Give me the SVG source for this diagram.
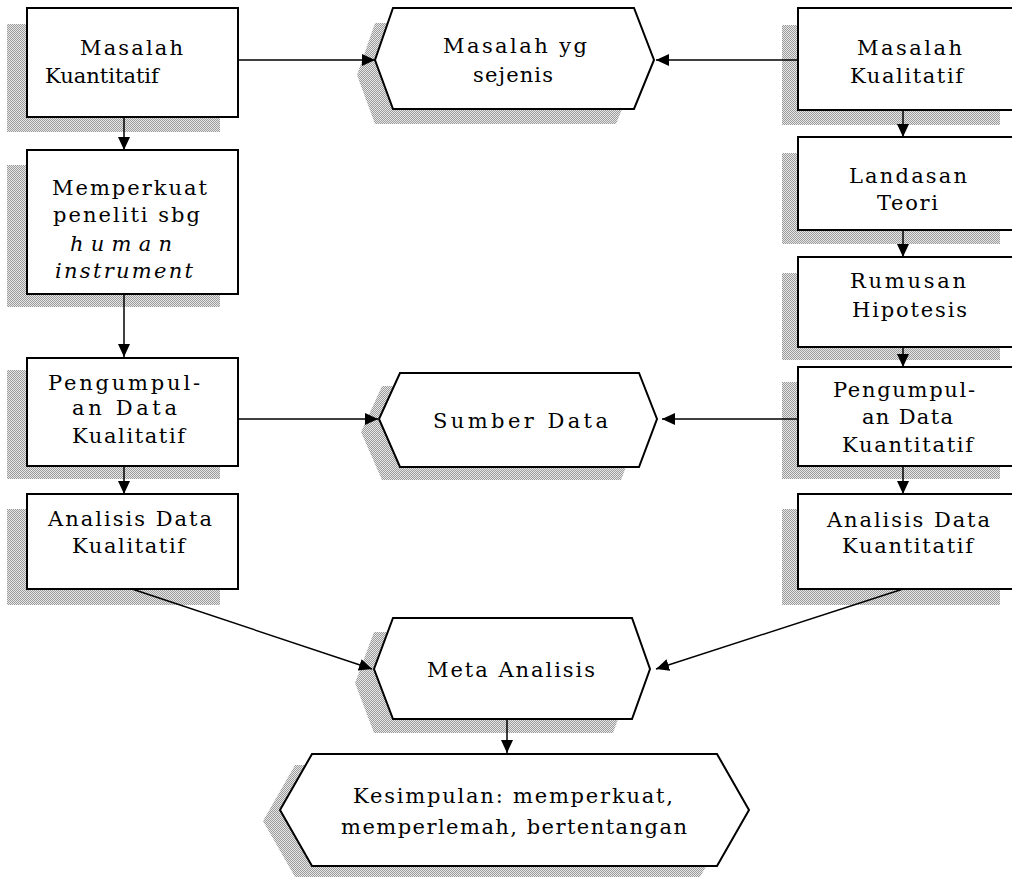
<svg xmlns="http://www.w3.org/2000/svg" width="1012" height="879" viewBox="0 0 1012 879">
<style>
.bg{fill:#fff}
.box{fill:#fff;stroke:#000;stroke-width:2}
.sh{fill:url(#dots);stroke:none}
.t{font-family:"DejaVu Serif","Liberation Serif","Times New Roman",serif;font-size:21px;fill:#000}
.it{font-style:italic}
.c{stroke:#000;stroke-width:1.5;fill:none;marker-end:url(#ah)}
</style>
<defs>
<pattern id="dots" width="2" height="2" patternUnits="userSpaceOnUse">
<rect width="2" height="2" fill="#e6e6e6"/>
<rect x="0" y="0" width="1" height="1" fill="#9c9c9c"/>
<rect x="1" y="1" width="1" height="1" fill="#9c9c9c"/>
</pattern>
<marker id="ah" markerUnits="userSpaceOnUse" markerWidth="14" markerHeight="14" refX="13" refY="6" orient="auto">
<path d="M0,0 L13,6 L0,12 z" fill="#000"/>
</marker>
<polygon id="hx1" points="393,8 634,8 654,60 634,109 393,109 375,60"/>
<polygon id="hx2" points="400,373 639,373 657,419 639,467 400,467 379,419"/>
<polygon id="hx3" points="393,618 632,618 650,669 632,719 393,719 374,669"/>
<polygon id="hx4" points="312,754 717,754 749,810 717,866 312,866 280,810"/>
</defs>
<rect class="bg" x="0" y="0" width="1012" height="879"/>

<g id="shadows">
<rect class="sh" x="7" y="24" width="213" height="108"/>
<rect class="sh" x="7" y="165" width="213" height="142"/>
<rect class="sh" x="7" y="370" width="213" height="109"/>
<rect class="sh" x="7" y="509" width="213" height="96"/>
<rect class="sh" x="782" y="25" width="218" height="100"/>
<rect class="sh" x="782" y="153" width="218" height="91"/>
<rect class="sh" x="782" y="273" width="218" height="87"/>
<rect class="sh" x="782" y="382" width="218" height="97"/>
<rect class="sh" x="782" y="509" width="218" height="96"/>
<use href="#hx1" class="sh" transform="translate(-18,15)"/>
<use href="#hx2" class="sh" transform="translate(-18,13)"/>
<use href="#hx3" class="sh" transform="translate(-19,14)"/>
<use href="#hx4" class="sh" transform="translate(-17,11)"/>
</g>

<g id="connectors">
<line class="c" x1="238" y1="60" x2="375" y2="60"/>
<line class="c" x1="798" y1="60" x2="656" y2="60"/>
<line class="c" x1="124" y1="117" x2="124" y2="150"/>
<line class="c" x1="124" y1="294" x2="124" y2="357"/>
<line class="c" x1="124" y1="466" x2="124" y2="494"/>
<line class="c" x1="903" y1="110" x2="903" y2="137"/>
<line class="c" x1="903" y1="230" x2="903" y2="257"/>
<line class="c" x1="903" y1="347" x2="903" y2="367"/>
<line class="c" x1="903" y1="466" x2="903" y2="494"/>
<line class="c" x1="238" y1="419" x2="378" y2="419"/>
<line class="c" x1="798" y1="419" x2="662" y2="419"/>
<line class="c" x1="132" y1="589" x2="372" y2="669"/>
<line class="c" x1="903" y1="589" x2="656" y2="669"/>
<line class="c" x1="507" y1="719" x2="507" y2="753"/>
</g>

<g id="n-masalah-kuantitatif">
<rect class="box" x="27" y="8" width="211" height="109"/>
<text class="t" x="80" y="55" textLength="103" lengthAdjust="spacing">Masalah</text>
<text class="t" x="45" y="83">Kuantitatif</text>
</g>
<g id="n-memperkuat">
<rect class="box" x="27" y="150" width="211" height="144"/>
<text class="t" x="52" y="195" textLength="155" lengthAdjust="spacing">Memperkuat</text>
<text class="t" x="53" y="222" textLength="147" lengthAdjust="spacing">peneliti sbg</text>
<text class="t it" x="70" y="251" textLength="102" lengthAdjust="spacing">human</text>
<text class="t it" x="55" y="278" textLength="138" lengthAdjust="spacing">instrument</text>
</g>
<g id="n-pengumpulan-kualitatif">
<rect class="box" x="27" y="358" width="211" height="108"/>
<text class="t" x="48" y="390" textLength="152" lengthAdjust="spacing">Pengumpul-</text>
<text class="t" x="72" y="415" textLength="105" lengthAdjust="spacing">an Data</text>
<text class="t" x="72" y="443" textLength="113" lengthAdjust="spacing">Kualitatif</text>
</g>
<g id="n-analisis-kualitatif">
<rect class="box" x="27" y="494" width="211" height="95"/>
<text class="t" x="48" y="526" textLength="164" lengthAdjust="spacing">Analisis Data</text>
<text class="t" x="72" y="553" textLength="113" lengthAdjust="spacing">Kualitatif</text>
</g>

<g id="n-masalah-kualitatif">
<rect class="box" x="798" y="8" width="220" height="102"/>
<text class="t" x="857" y="55" textLength="105" lengthAdjust="spacing">Masalah</text>
<text class="t" x="850" y="83" textLength="113" lengthAdjust="spacing">Kualitatif</text>
</g>
<g id="n-landasan-teori">
<rect class="box" x="798" y="137" width="220" height="93"/>
<text class="t" x="849" y="183" textLength="118" lengthAdjust="spacing">Landasan</text>
<text class="t" x="877" y="210" textLength="61" lengthAdjust="spacing">Teori</text>
</g>
<g id="n-rumusan-hipotesis">
<rect class="box" x="798" y="257" width="220" height="90"/>
<text class="t" x="850" y="288" textLength="116" lengthAdjust="spacing">Rumusan</text>
<text class="t" x="852" y="317" textLength="115" lengthAdjust="spacing">Hipotesis</text>
</g>
<g id="n-pengumpulan-kuantitatif">
<rect class="box" x="798" y="367" width="220" height="99"/>
<text class="t" x="833" y="397" textLength="142" lengthAdjust="spacing">Pengumpul-</text>
<text class="t" x="862" y="424" textLength="91" lengthAdjust="spacing">an Data</text>
<text class="t" x="842" y="452" textLength="131" lengthAdjust="spacing">Kuantitatif</text>
</g>
<g id="n-analisis-kuantitatif">
<rect class="box" x="798" y="494" width="220" height="95"/>
<text class="t" x="827" y="527" textLength="163" lengthAdjust="spacing">Analisis Data</text>
<text class="t" x="842" y="553" textLength="131" lengthAdjust="spacing">Kuantitatif</text>
</g>

<g id="n-masalah-sejenis">
<use href="#hx1" class="box"/>
<text class="t" x="443" y="53" textLength="144" lengthAdjust="spacing">Masalah yg</text>
<text class="t" x="473" y="82" textLength="80" lengthAdjust="spacing">sejenis</text>
</g>
<g id="n-sumber-data">
<use href="#hx2" class="box"/>
<text class="t" x="433" y="428" textLength="175" lengthAdjust="spacing">Sumber Data</text>
</g>
<g id="n-meta-analisis">
<use href="#hx3" class="box"/>
<text class="t" x="427" y="677" textLength="168" lengthAdjust="spacing">Meta Analisis</text>
</g>
<g id="n-kesimpulan">
<use href="#hx4" class="box"/>
<text class="t" x="353" y="803" textLength="320" lengthAdjust="spacing">Kesimpulan: memperkuat,</text>
<text class="t" x="341" y="834" textLength="346" lengthAdjust="spacing">memperlemah, bertentangan</text>
</g>
</svg>
